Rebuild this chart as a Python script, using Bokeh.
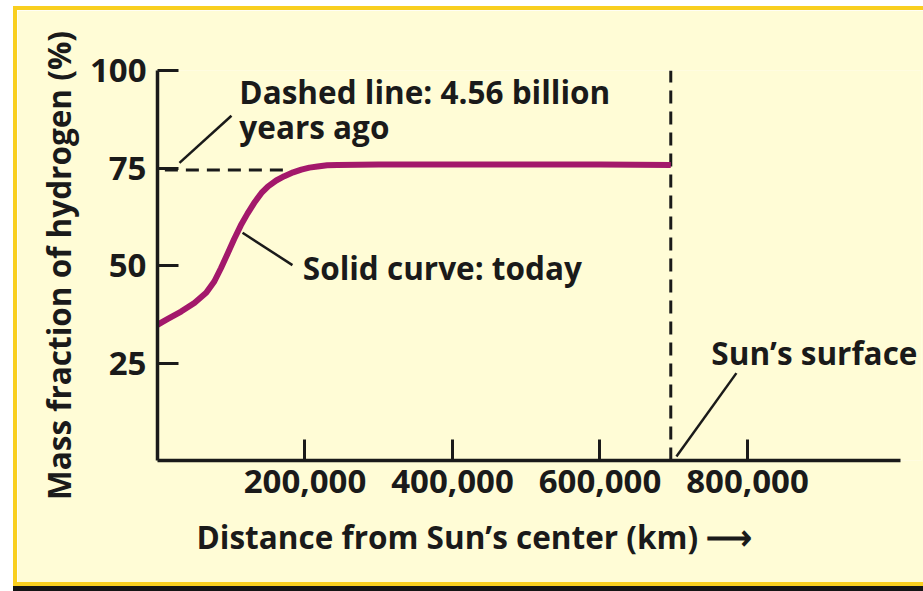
from bokeh.plotting import figure
from bokeh.models import Label, FixedTicker, NumeralTickFormatter, Range1d, Title
from bokeh.embed import file_html
from bokeh.resources import INLINE

# ---- data ----
distance_km = [0, 14000, 32000, 50000, 66000, 77000, 86000, 95000, 104000, 113000,
               122000, 132000, 141000, 150000, 161000, 172000, 184000, 195000, 206000,
               217000, 230000, 244000, 300000, 400000, 500000, 600000, 696000]
hydrogen_today_pct = [34.8, 36.3, 38.2, 40.4, 43.0, 45.9, 49.3, 53.0, 56.8, 60.3,
                      63.3, 66.3, 68.6, 70.3, 71.8, 72.9, 73.9, 74.6, 75.1,
                      75.4, 75.7, 75.8, 75.9, 75.9, 75.9, 75.9, 75.8]
early_distance_km = [10000, 178000]
early_hydrogen_pct = [74.5, 74.5]
surface_distance_km = [696000, 696000]
surface_span_pct = [0, 100]
x_ticks = [200000, 400000, 600000, 800000]
y_ticks = [25, 50, 75, 100]
x_axis_extent_km = (0, 1008000)

# leader lines (x0, y0, x1, y1)
leader_x0 = [29800, 115300, 703700]
leader_y0 = [76.3, 58.4, 1.0]
leader_x1 = [100300, 183000, 785000]
leader_y1 = [88.4, 50.1, 22.4]

note_texts = ["Dashed line: 4.56 billion", "years ago", "Solid curve: today", "Sun\u2019s surface"]
note_x = [111000, 111000, 197000, 751000]
note_y = [94.6, 85.6, 49.4, 27.8]

x_title = "Distance from Sun\u2019s center (km) \u27f6"
y_title = "Mass fraction of hydrogen (%)"

BG = "#fffcd6"
GOLD = "#f9cf1f"
INK = "#1a1a1a"
FONT = "Open Sans"
FS = "31.5px"

p = figure(width=906, height=572, output_backend="svg", toolbar_location=None,
           x_range=Range1d(0, 1036000), y_range=Range1d(0, 100),
           min_border_left=140, min_border_right=2, min_border_top=60, min_border_bottom=122,
           background_fill_color=BG, border_fill_color=BG, outline_line_color=None)
p.styles = {"margin-left": "17px", "margin-top": "10px",
            "box-shadow": f"0 0 0 4px {GOLD}, 0 5px 0 4px #141414"}

p.xgrid.visible = False
p.ygrid.visible = False

for ax in (p.xaxis[0], p.yaxis[0]):
    ax.axis_line_width = 3.5
    ax.axis_line_color = INK
    ax.major_tick_line_width = 3
    ax.major_tick_line_color = INK
    ax.major_tick_out = 0
    ax.major_tick_in = 21
    ax.minor_tick_line_color = None
    ax.major_label_text_font = FONT
    ax.major_label_text_font_style = "bold"
    ax.major_label_text_font_size = "33px"
    ax.major_label_text_color = INK

p.xaxis.major_label_standoff = 9
p.yaxis.major_label_standoff = 11
p.xaxis.bounds = x_axis_extent_km
p.xaxis.ticker = FixedTicker(ticks=x_ticks)
p.xaxis.formatter = NumeralTickFormatter(format="0,0")
p.yaxis.ticker = FixedTicker(ticks=y_ticks)
p.yaxis.axis_label = y_title
p.yaxis.axis_label_text_font = FONT
p.yaxis.axis_label_text_font_style = "bold"
p.yaxis.axis_label_text_font_size = FS
p.yaxis.axis_label_text_color = INK
p.yaxis.axis_label_standoff = 7

p.add_layout(Title(text=x_title, align="left", offset=39, standoff=34,
                   text_font=FONT, text_font_style="bold", text_font_size=FS,
                   text_color=INK), "below")

# dashed line: 4.56 billion years ago
p.line(early_distance_km, early_hydrogen_pct, line_color=INK, line_width=3, line_dash="13 8")
# sun's surface
p.line(surface_distance_km, surface_span_pct, line_color=INK, line_width=3, line_dash="13 8")
# today
p.line(distance_km, hydrogen_today_pct, line_color="#a3186b", line_width=6,
       line_join="round", line_cap="butt")
# leaders
p.segment(leader_x0, leader_y0, leader_x1, leader_y1, line_color=INK, line_width=2.5)

for t, x, y in zip(note_texts, note_x, note_y):
    p.add_layout(Label(x=x, y=y, text=t, text_font=FONT, text_font_style="bold",
                       text_font_size=FS, text_color=INK, text_baseline="alphabetic",
                       text_align="left"))

open("out.html", "w").write(file_html(p, INLINE))
